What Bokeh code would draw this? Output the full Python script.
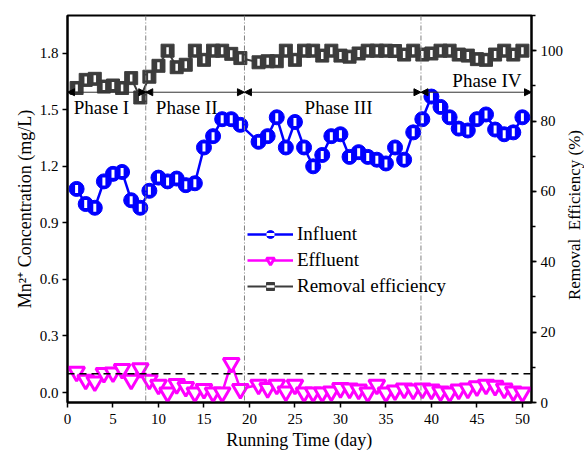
import math
from bokeh.plotting import figure
from bokeh.layouts import row
from bokeh.models import (Range1d, LinearAxis, SingleIntervalTicker, FixedTicker, PrintfTickFormatter,
                          Span, Arrow, NormalHead, Label, Legend, LegendItem, Div)
from bokeh.embed import file_html
from bokeh.resources import INLINE

days = [1, 2, 3, 4, 5, 6, 7, 8, 9, 10, 11, 12, 13, 14, 15, 16, 17, 18, 19,
        21, 22, 23, 24, 25, 26, 27, 28, 29, 30, 31, 32, 33, 34, 35, 36, 37, 38, 39, 40,
        41, 42, 43, 44, 45, 46, 47, 48, 49, 50]
influent = [1.08, 1.00, 0.98, 1.12, 1.16, 1.17, 1.02, 0.98, 1.07, 1.14, 1.12, 1.135, 1.10, 1.11, 1.30,
            1.36, 1.45, 1.45, 1.42,
            1.33, 1.36, 1.46, 1.30, 1.435, 1.30, 1.20, 1.26, 1.36, 1.37, 1.25, 1.275, 1.25, 1.235, 1.215,
            1.30, 1.235, 1.38, 1.45, 1.57, 1.515, 1.46, 1.40, 1.39, 1.45, 1.475, 1.395, 1.37, 1.38, 1.46]
effluent = [0.11, 0.067, 0.058, 0.103, 0.106, 0.124, 0.067, 0.128, 0.067, 0.041, 0.0, 0.044, 0.029, 0.0,
            0.018, 0.0, 0.0, 0.156, 0.018,
            0.041, 0.023, 0.041, 0.005, 0.041, 0.0, 0.0, 0.0, 0.005, 0.023, 0.02, 0.015, 0.0, 0.041, 0.0,
            0.01, 0.02, 0.015, 0.02, 0.015, 0.005, 0.0, 0.015, 0.02, 0.032, 0.041, 0.035, 0.02, 0.005, 0.0]
removal = [89.4, 91.7, 92.0, 89.8, 90.1, 89.4, 92.2, 86.7, 92.6, 95.7, 100.0, 95.3, 96.0, 100.0, 97.4,
           100.0, 100.0, 99.1, 97.9,
           96.7, 97.0, 97.0, 100.0, 97.4, 100.0, 100.0, 98.6, 100.0, 98.6, 98.3, 99.2, 100.0, 100.0, 100.0,
           99.9, 98.9, 100.0, 98.9, 99.2, 100.0, 100.0, 98.9, 98.6, 97.6, 97.4, 98.9, 100.0, 98.9, 100.0]

phase_bounds = [0, 8.6, 19.45, 38.85, 51]
phase_names = ["Phase I", "Phase II", "Phase III", "Phase IV"]
limit_value = 0.1
right_title = "Removal&nbsp;&nbsp;Efficiency (%)"

FONT = "Liberation Serif"
BLUE = "#0000FF"
MAG = "#FF00FF"
GRAY = "#3c3c3c"

p = figure(width=566, height=452, output_backend="svg", toolbar_location=None,
           x_range=Range1d(0, 51), y_range=Range1d(-0.053, 2.0),
           min_border_left=67, min_border_right=34, min_border_top=15, min_border_bottom=49)
p.extra_y_ranges = {"eff": Range1d(0, 110)}
p.xgrid.visible = False
p.ygrid.visible = False
p.outline_line_color = "black"
p.outline_line_width = 2
p.background_fill_color = "white"
p.border_fill_color = "white"

def style_axis(ax):
    ax.axis_line_width = 2
    ax.axis_line_color = "black"
    ax.major_tick_line_width = 1.5
    ax.major_tick_out = 5
    ax.major_tick_in = 0
    ax.minor_tick_line_width = 1.5
    ax.minor_tick_out = 4
    ax.minor_tick_in = 0
    ax.major_label_text_font = FONT
    ax.major_label_text_font_size = "15px"
    ax.major_label_text_color = "black"
    ax.axis_label_text_font = FONT
    ax.axis_label_text_font_style = "normal"
    ax.axis_label_text_color = "black"

xa = p.xaxis[0]
xa.ticker = SingleIntervalTicker(interval=5, num_minor_ticks=0)
xa.axis_label = "Running Time (day)"
style_axis(xa)
xa.axis_label_text_font_size = "18px"
xa.major_label_standoff = 6
xa.axis_label_standoff = 3

ya = p.yaxis[0]
ya.ticker = FixedTicker(ticks=[0.0, 0.3, 0.6, 0.9, 1.2, 1.5, 1.8])
ya.formatter = PrintfTickFormatter(format="%.1f")
ya.axis_label = "Mn²⁺ Concentration (mg/L)"
style_axis(ya)
ya.axis_label_text_font_size = "18px"
ya.major_label_standoff = 4
ya.axis_label_standoff = 2

ra = LinearAxis(y_range_name="eff", ticker=SingleIntervalTicker(interval=20, num_minor_ticks=2))
style_axis(ra)
ra.major_label_standoff = 4
p.add_layout(ra, "right")

# phase separators
for b in phase_bounds[1:-1]:
    p.add_layout(Span(location=b, dimension="height", line_color="#808080", line_width=1,
                      line_dash="5 2 1 2"))
# limit line
p.add_layout(Span(location=limit_value, dimension="width", line_color="black", line_width=1.5,
                  line_dash="7 5"))

# phase arrows and labels
arrow_y = 1.593
for i in range(4):
    x0, x1 = phase_bounds[i], phase_bounds[i + 1]
    p.add_layout(Arrow(x_start=x0, y_start=arrow_y, x_end=x1, y_end=arrow_y,
                       line_color="#333333", line_width=1,
                       start=NormalHead(size=7, fill_color="black", line_color="black", line_width=1),
                       end=NormalHead(size=7, fill_color="black", line_color="black", line_width=1)))
label_pos = [(3.73, 1.514), (13.1, 1.514), (29.8, 1.514), (46.1, 1.655)]
for name, (lx, ly) in zip(phase_names, label_pos):
    p.add_layout(Label(x=lx, y=ly, text=name, text_font=FONT, text_font_size="19px",
                       text_align="center", text_baseline="middle", text_color="black"))

# removal efficiency
r_rl = p.line(days, removal, y_range_name="eff", line_color=GRAY, line_width=2)
r_rs = p.scatter(days, removal, y_range_name="eff", marker="square", size=13,
                 fill_color=GRAY, line_color=GRAY)
r_rb = p.scatter(days, removal, y_range_name="eff", marker="dash", angle=math.pi / 2, size=7,
                 line_color="white", line_width=2.5)

# effluent
r_el = p.line(days, effluent, line_color=MAG, line_width=2.5)
r_es = p.scatter(days, effluent, marker="inverted_triangle", size=16, fill_color="white",
                 line_color=MAG, line_width=3)

# influent
r_il = p.line(days, influent, line_color=BLUE, line_width=2.5)
r_is = p.scatter(days, influent, marker="circle", size=15, fill_color=BLUE, line_color=BLUE)
r_ib = p.scatter(days, influent, marker="dash", angle=math.pi / 2, size=8,
                 line_color="white", line_width=3)

legend = Legend(items=[
    LegendItem(label="Influent", renderers=[r_il, r_is, r_ib]),
    LegendItem(label="Effluent", renderers=[r_el, r_es]),
    LegendItem(label="Removal efficiency", renderers=[r_rl, r_rs, r_rb]),
], location=(180, 105))
legend.background_fill_alpha = 0
legend.border_line_color = None
legend.label_text_font = FONT
legend.label_text_font_size = "19px"
legend.label_text_color = "black"
legend.glyph_width = 46
legend.glyph_height = 20
legend.label_height = 20
legend.spacing = 4
legend.padding = 0
legend.margin = 0
legend.label_standoff = 4
p.add_layout(legend)

# right-hand axis title, reading bottom-to-top
title_div = Div(
    text=('<div style="position:absolute; left:0; top:15px; width:18px; height:400px; '
          'display:flex; align-items:center; justify-content:center;">'
          '<span style="writing-mode:vertical-rl; transform:rotate(180deg); white-space:nowrap; '
          'font-family:\'Liberation Serif\'; font-size:17px; color:black; line-height:18px;">'
          + right_title + '</span></div>'),
    width=18, height=452, margin=(0, 0, 0, 0),
    styles={"background-color": "white", "position": "relative"})

layout = row(p, title_div, spacing=0)
open("out.html", "w").write(file_html(layout, INLINE))
